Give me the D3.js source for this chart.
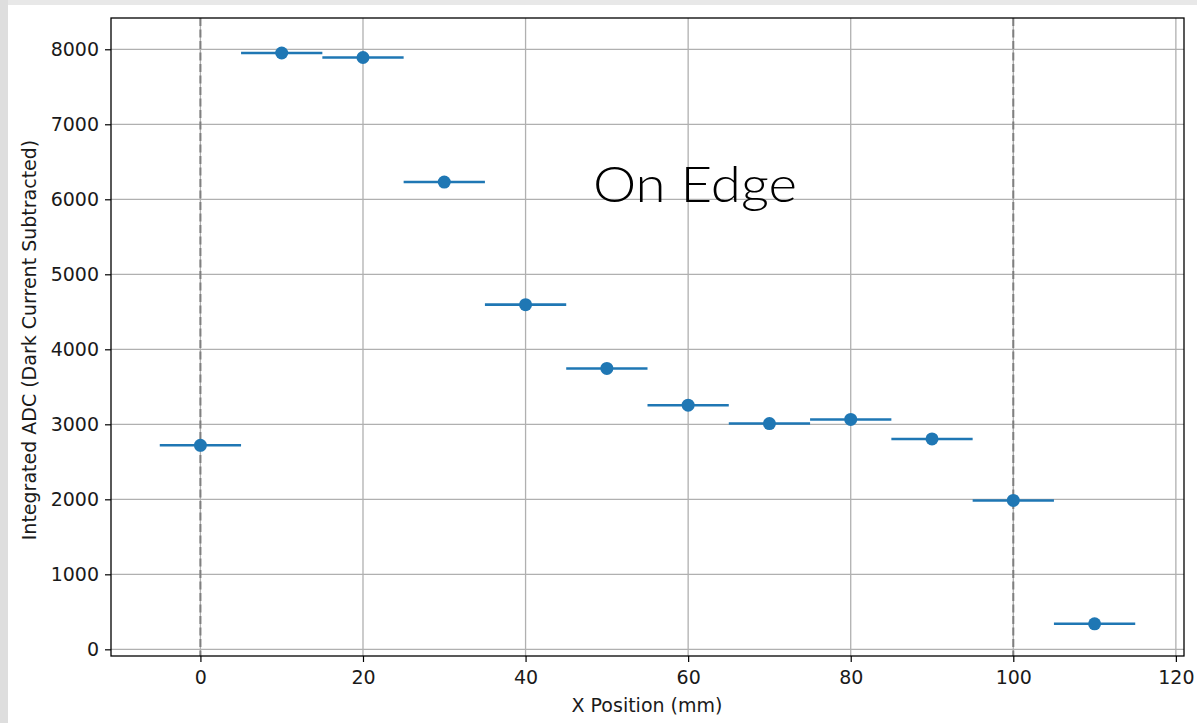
<!DOCTYPE html>
<html><head><meta charset="utf-8">
<script src="https://cdn.jsdelivr.net/npm/d3@7"></script>
<style>
html,body{margin:0;padding:0;background:#e6e6e6;}
svg{display:block;}
</style></head>
<body>
<svg id="c" width="1197" height="723"></svg>
<script>
const xPositions = [0, 10, 20, 30, 40, 50, 60, 70, 80, 90, 100, 110];
const adcValues = [2720, 7950, 7890, 6230, 4595, 3745, 3255, 3010, 3065, 2805, 1985, 340];
const xErr = [5, 5, 5, 5, 5, 5, 5, 5, 5, 5, 5, 5];
const xTicks = [0, 20, 40, 60, 80, 100, 120];
const yTicks = [0, 1000, 2000, 3000, 4000, 5000, 6000, 7000, 8000];
const edgeLines = [0, 100];
const annotation = "On Edge";

const svg = d3.select("#c");
svg.append("rect").attr("x",0).attr("y",0).attr("width",1197).attr("height",723).attr("fill","#e8e8e8");
svg.append("rect").attr("x",0).attr("y",0).attr("width",8).attr("height",723).attr("fill","#dedede");
svg.append("rect").attr("x",8).attr("y",5).attr("width",1189).attr("height",718).attr("fill","#ffffff");

const L = 111, R = 1184, T = 18, B = 656;
const x = d3.scaleLinear().domain([-11, 121]).range([L, R]);
const y = d3.scaleLinear().domain([-89, 8417]).range([B, T]);

const font = "DejaVu Sans";
const fs = "19px";
const g = svg.append("g");

g.selectAll(".gx").data(xTicks).enter().append("line")
  .attr("x1", d=>x(d)).attr("x2", d=>x(d)).attr("y1", T).attr("y2", B)
  .attr("stroke", "#b0b0b0").attr("stroke-width", 1.3);
g.selectAll(".gy").data(yTicks).enter().append("line")
  .attr("x1", L).attr("x2", R).attr("y1", d=>y(d)).attr("y2", d=>y(d))
  .attr("stroke", "#b0b0b0").attr("stroke-width", 1.3);

g.selectAll(".edge").data(edgeLines).enter().append("line")
  .attr("x1", d=>x(d)).attr("x2", d=>x(d)).attr("y1", T).attr("y2", B)
  .attr("stroke", "#7f7f7f").attr("stroke-width", 2).attr("stroke-dasharray", "8,3.5");

const data = xPositions.map((d,i)=>({x:d, y:adcValues[i], e:xErr[i]}));
g.selectAll(".eb").data(data).enter().append("line")
  .attr("x1", d=>x(d.x-d.e)).attr("x2", d=>x(d.x+d.e))
  .attr("y1", d=>y(d.y)).attr("y2", d=>y(d.y))
  .attr("stroke", "#1f77b4").attr("stroke-width", 2.6);
g.selectAll(".pt").data(data).enter().append("circle")
  .attr("cx", d=>x(d.x)).attr("cy", d=>y(d.y)).attr("r", 6.5)
  .attr("fill", "#1f77b4");

const xAxis = d3.axisBottom(x).tickValues(xTicks).tickSize(6).tickPadding(5).tickFormat(d3.format("d"));
const yAxis = d3.axisLeft(y).tickValues(yTicks).tickSize(6).tickPadding(6).tickFormat(d3.format("d"));
const gx = svg.append("g").attr("transform", `translate(0,${B})`).call(xAxis);
const gy = svg.append("g").attr("transform", `translate(${L},0)`).call(yAxis);
[gx, gy].forEach(a=>{
  a.select(".domain").remove();
  a.selectAll(".tick line").attr("stroke","#000").attr("stroke-width",1.2);
  a.selectAll(".tick text").attr("fill","#1a1a1a").style("font-family",font).style("font-size",fs);
});
gx.selectAll(".tick text").attr("dy","0.9em");

svg.append("rect").attr("x",L).attr("y",T).attr("width",R-L).attr("height",B-T)
  .attr("fill","none").attr("stroke","#000").attr("stroke-width",1.3);

svg.append("text").attr("x", 647).attr("y", 712).attr("text-anchor","middle")
  .style("font-family",font).style("font-size",fs).attr("fill","#1a1a1a").text("X Position (mm)");
svg.append("text").attr("transform", `translate(36,340) rotate(-90)`).attr("text-anchor","middle")
  .style("font-family",font).style("font-size",fs).attr("fill","#1a1a1a").text("Integrated ADC (Dark Current Subtracted)");

svg.append("text").attr("x", 593).attr("y", 202)
  .style("font-family","Lato").style("font-weight","300").style("font-size","50px")
  .attr("textLength", 204).attr("lengthAdjust","spacingAndGlyphs")
  .attr("fill","#000").text(annotation);
</script>
</body></html>
